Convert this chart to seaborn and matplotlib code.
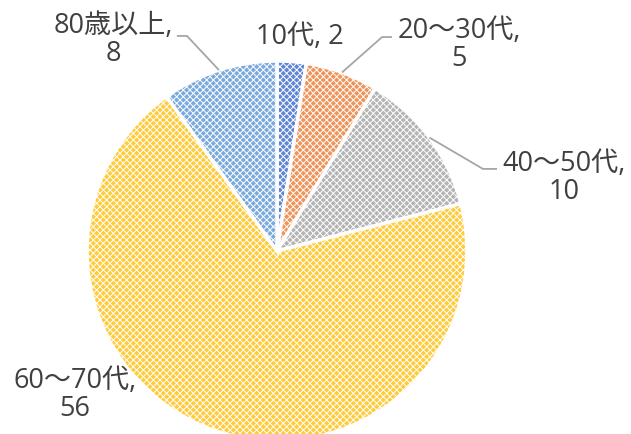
import numpy as np
import matplotlib.pyplot as plt
import seaborn as sns

# data
labels = ['10代', '20～30代', '40～50代', '60～70代', '80歳以上']
counts = [2, 5, 10, 56, 8]
colors = ['#5F86D6', '#F09358', '#B4B4B4', '#FFCB3A', '#7AAADD']

sns.set_theme(style='white')
plt.rcParams['font.family'] = ['Open Sans', 'Noto Sans CJK JP', 'DejaVu Sans']
plt.rcParams['hatch.linewidth'] = 0.7
plt.rcParams['hatch.color'] = 'white'

fig = plt.figure(figsize=(6.31, 4.35), dpi=100)
# pie centre about (277, 252) px, radius 190 px
ax = fig.add_axes([87 / 631, -7 / 435, 380 / 631, 380 / 435])

wedges, _ = ax.pie(counts, colors=colors, startangle=90, counterclock=False,
                   radius=1.0,
                   wedgeprops=dict(edgecolor='white', linewidth=2.5))
for w in wedges:
    w.set_hatch('xxxxx')
ax.set_xlim(-1, 1)
ax.set_ylim(-1, 1)
ax.set_aspect('equal')
ax.axis('off')

# label placement (data coords, radius = 1) and optional leader elbows
text_pos = [(0.12, 1.13), (0.96, 1.09), (1.51, 0.39), (-1.063, -0.753), (-0.86, 1.116)]
elbows = [None, (0.553, 1.126), (1.084, 0.432), None, (-0.474, 1.132)]
ends = [None, (0.605, 1.126), (1.158, 0.432), None, (-0.527, 1.132)]

total = sum(counts)
start = 0.0
for i, (lab, c) in enumerate(zip(labels, counts)):
    mid = start + c / total * 180.0
    start += c / total * 360.0
    ang = np.deg2rad(90 - mid)
    if elbows[i] is not None:
        tip = (np.cos(ang) * 1.0, np.sin(ang) * 1.0)
        ex, ey = elbows[i]
        fx, fy = ends[i]
        ax.plot([tip[0], ex, fx], [tip[1], ey, fy], color='#A6A6A6', lw=1.3,
                clip_on=False, solid_capstyle='butt')
    if i == 0:
        txt = f'{lab}, {c}'
    else:
        txt = f'{lab},\n{c}'
    ax.text(text_pos[i][0], text_pos[i][1], txt, ha='center', va='center',
            fontsize=19.5, color='#404040', linespacing=1.0)

fig.savefig('out.png', dpi=100)
